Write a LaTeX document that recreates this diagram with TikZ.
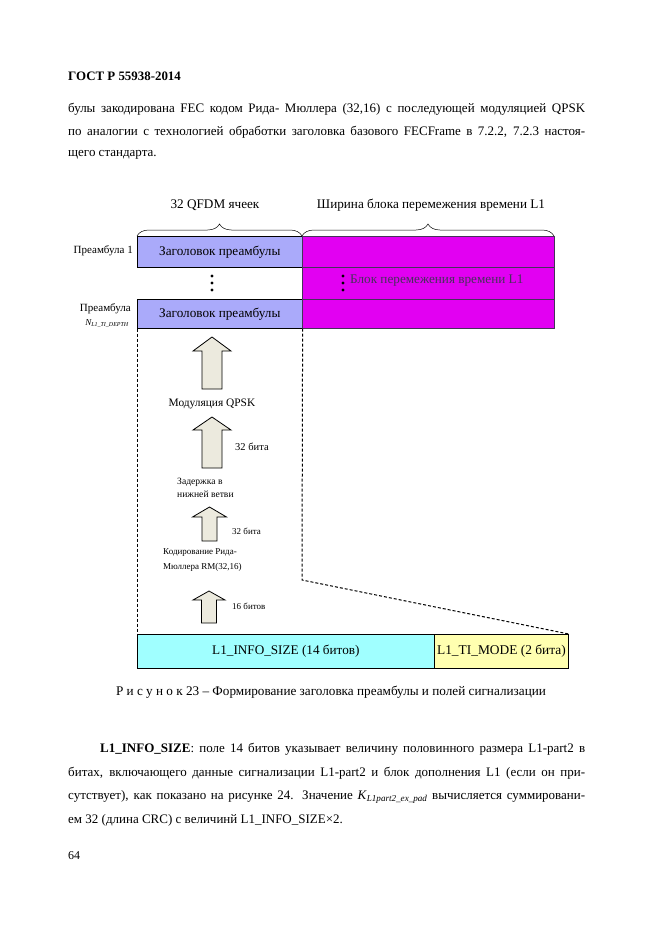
\documentclass[tikz,border=0pt]{standalone}
\usepackage{fontspec}
\setmainfont{Liberation Serif}
\usetikzlibrary{decorations.pathreplacing}
\definecolor{lav}{RGB}{170,170,250}
\definecolor{mag}{RGB}{226,0,242}
\definecolor{magline}{RGB}{70,50,90}
\definecolor{cyanbox}{RGB}{160,255,255}
\definecolor{yelbox}{RGB}{255,255,176}
\definecolor{arrowfill}{RGB}{236,234,222}
\newcommand\blockarr[6]{%
  \draw[arrowst] (#1,#2) -- (#1+#5,#3) -- (#1+#6,#3) -- (#1+#6,#4) -- (#1-#6,#4) -- (#1-#6,#3) -- (#1-#5,#3) -- cycle;}
\begin{document}
\begin{tikzpicture}[x=1pt,y=-1pt,
  body/.style={anchor=west,inner sep=0pt,font=\fontsize{13}{15}\selectfont},
  lbl/.style={inner sep=0pt,font=\fontsize{9}{11}\selectfont},
  hdr/.style={inner sep=0pt,font=\fontsize{13.2}{15}\selectfont},
  lavbox/.style={draw=black,line width=0.6pt,fill=lav},
  magbox/.style={draw=magline,line width=1.3pt,fill=mag},
  dashln/.style={draw=black,line width=1pt,dash pattern=on 3pt off 2pt},
  arrowst/.style={draw=black,line width=0.8pt,fill=arrowfill},
  brc/.style={draw=black,line width=0.5pt,decorate,decoration={brace,amplitude=12pt}}]
\useasboundingbox (0,0) rectangle (661,935);
\fill[white] (0,0) rectangle (661,935);

% page header and text
\node[anchor=west,inner sep=0pt,font=\fontsize{12.9}{15}\selectfont\bfseries] (gost) at (68,76) {ГОСТ Р 55938-2014};
\node[body] (t1) at (68,109) {\makebox[517pt][s]{булы закодирована FEC кодом Рида- Мюллера (32,16) с последующей модуляцией QPSK}};
\node[body] (t2) at (68,132) {\makebox[517pt][s]{по аналогии с технологией обработки заголовка базового FECFrame в 7.2.2, 7.2.3 настоя-}};
\node[body] (t3) at (68,155) {щего стандарта.};

% braces
\coordinate (b1l) at (137,236);
\coordinate (b1r) at (302,236);
\coordinate (b2r) at (554,236);
\draw[brc] (b1l) -- (b1r);
\draw[brc] (b1r) -- (b2r);
\node[hdr] (h1) at (215,205) {32 QFDM ячеек};
\node[hdr] (h2) at (431,205) {Ширина блока перемежения времени L1};

% rows
\node[lavbox,minimum width=165pt,minimum height=31pt,anchor=north west,inner sep=0pt] (r1) at (137,236) {};
\node[hdr] at (r1) {Заголовок преамбулы};
\node[lavbox,minimum width=165pt,minimum height=29pt,anchor=north west,inner sep=0pt] (r3) at (137,299) {};
\node[hdr] at (r3) {Заголовок преамбулы};
\node[magbox,minimum width=252pt,minimum height=31pt,anchor=north west,inner sep=0pt] (m1) at (302,236) {};
\node[magbox,minimum width=252pt,minimum height=32pt,anchor=north west,inner sep=0pt] (m2) at (302,267) {};
\node[magbox,minimum width=252pt,minimum height=29pt,anchor=north west,inner sep=0pt] (m3) at (302,299) {};
\node[hdr,anchor=west,text=magline] (mt) at (350,281) {Блок перемежения времени L1};
\foreach \yy in {276,283,290}{
  \fill (212,\yy) circle (1.6pt);
  \fill (343,\yy) circle (1.6pt);
}
\node[lbl,anchor=east,font=\fontsize{11}{13}\selectfont] (p1) at (133,251) {Преамбула 1};
\node[lbl,anchor=east,font=\fontsize{11}{13}\selectfont] (pn) at (131,309) {Преамбула};
\node[lbl,anchor=east,font=\fontsize{9}{11}\selectfont\itshape] (pnn) at (129,323) {N\textsubscript{L1\_TI\_DEPTH}};

% bottom boxes
\node[draw=black,line width=0.8pt,fill=cyanbox,minimum width=297pt,minimum height=34pt,anchor=north west,inner sep=0pt] (info) at (137,634) {};
\node[hdr] at (info) {L1\_INFO\_SIZE (14 битов)};
\node[draw=black,line width=0.8pt,fill=yelbox,minimum width=134pt,minimum height=34pt,anchor=north west,inner sep=0pt] (mode) at (434,634) {};
\node[hdr,font=\fontsize{13.4}{15}\selectfont] at (mode) {L1\_TI\_MODE (2 бита)};

% dashed frame
\coordinate (corner) at (302,580);
\draw[dashln] (r3.south west) -- (info.north west);
\draw[dashln] (r3.south east) -- (corner) -- (mode.north east);

% block arrows
\blockarr{212}{337}{351}{389}{19}{10}
\blockarr{212}{417}{430}{468}{19}{10}
\blockarr{209.5}{507}{517}{541}{17}{7.5}
\blockarr{209}{591}{600}{623}{16}{7.5}
\node[lbl,font=\fontsize{11.4}{13}\selectfont] (q) at (212,404) {Модуляция QPSK};
\node[lbl,anchor=west,font=\fontsize{10.5}{12}\selectfont] (b32a) at (235,447) {32 бита};
\node[lbl,anchor=north west,align=left,font=\fontsize{9.6}{13}\selectfont] (del) at (177,478) {Задержка в\\нижней ветви};
\node[lbl,anchor=west] (b32b) at (232,531) {32 бита};
\node[lbl,anchor=north west,align=left,font=\fontsize{9}{15}\selectfont] (rm) at (163,548) {Кодирование Рида-\\Мюллера RM(32,16)};
\node[lbl,anchor=west] (b16) at (232,606) {16 битов};

% caption
\node[inner sep=0pt,font=\fontsize{13.2}{15}\selectfont] (cap) at (331,692) {Р и с у н о к 23 – Формирование заголовка преамбулы и полей сигнализации};

% paragraph
\node[body] (u1) at (100,749) {\makebox[485pt][s]{\textbf{L1\_INFO\_SIZE}:  поле 14 битов указывает величину половинного размера L1-part2 в}};
\node[body] (u2) at (68,773) {\makebox[517pt][s]{битах, включающего данные сигнализации L1-part2 и блок дополнения L1 (если он при-}};
\node[body] (u3) at (68,797) {\makebox[517pt][s]{сутствует), как показано на рисунке 24. Значение \textit{K}\textsubscript{\textit{L1part2\_ex\_pad}}  вычисляется суммировани-}};
\node[body] (u4) at (68,820) {ем 32 (длина CRC) с величинй L1\_INFO\_SIZE×2.};
\node[anchor=west,inner sep=0pt,font=\fontsize{12}{14}\selectfont] (pg) at (68,856) {64};
\end{tikzpicture}
\end{document}
